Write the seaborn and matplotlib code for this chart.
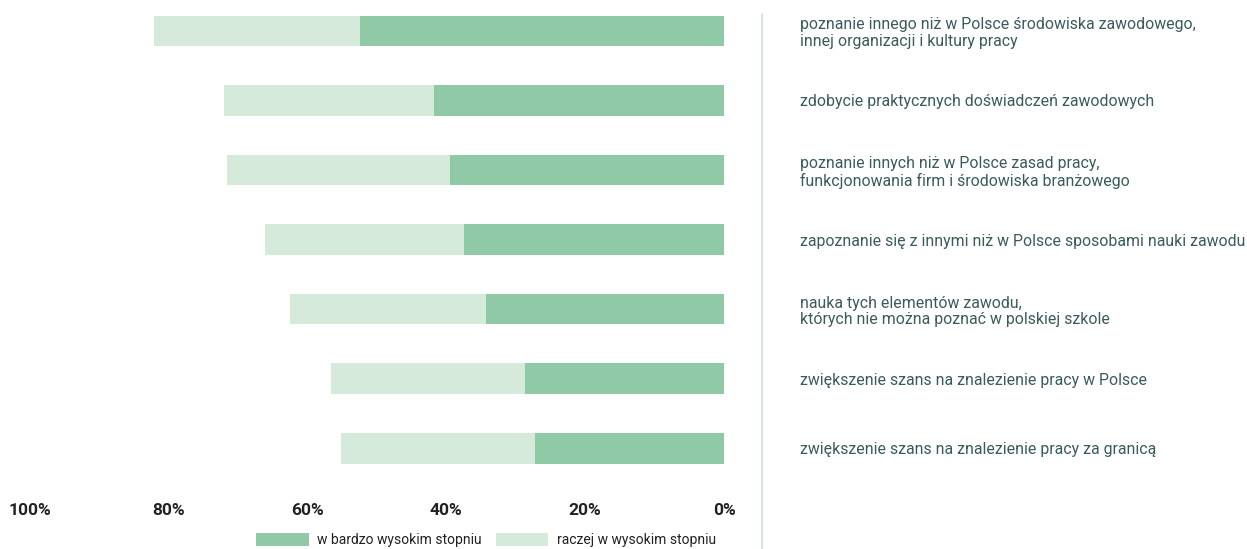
import matplotlib
matplotlib.use("Agg")
import matplotlib.pyplot as plt
from matplotlib.lines import Line2D
from matplotlib.patches import Patch
import seaborn as sns
import pandas as pd

categories = [
    "poznanie innego niż w Polsce środowiska zawodowego,\ninnej organizacji i kultury pracy",
    "zdobycie praktycznych doświadczeń zawodowych",
    "poznanie innych niż w Polsce zasad pracy,\nfunkcjonowania firm i środowiska branżowego",
    "zapoznanie się z innymi niż w Polsce sposobami nauki zawodu",
    "nauka tych elementów zawodu,\nktórych nie można poznać w polskiej szkole",
    "zwiększenie szans na znalezienie pracy w Polsce",
    "zwiększenie szans na znalezienie pracy za granicą",
]
very_high = [52.4, 41.8, 39.5, 37.5, 34.3, 28.7, 27.3]
rather_high = [29.8, 30.3, 32.1, 28.7, 28.2, 27.9, 27.9]
series_names = ["w bardzo wysokim stopniu", "raczej w wysokim stopniu"]
x_ticks = [100, 80, 60, 40, 20, 0]
x_tick_labels = ["100%", "80%", "60%", "40%", "20%", "0%"]

dark = "#8fc9a5"
light = "#d6eadc"
label_color = "#3a5b5c"

df = pd.DataFrame({
    "cat": categories,
    "very": very_high,
    "total": [a + b for a, b in zip(very_high, rather_high)],
})

sns.set_theme(style="white")
plt.rcParams["font.family"] = ["Roboto", "DejaVu Sans"]

W, H = 1247, 549
fig = plt.figure(figsize=(W / 100, H / 100), dpi=100)
ax = fig.add_axes([30 / W, 1 - 485 / H, (724 - 30) / W, 485 / H])

sns.barplot(data=df, y="cat", x="total", orient="h", color=light,
            width=0.44, ax=ax, saturation=1, linewidth=0)
sns.barplot(data=df, y="cat", x="very", orient="h", color=dark,
            width=0.44, ax=ax, saturation=1, linewidth=0)

ax.set_xlim(100, 0)
ax.set_ylim(6 + 37 / 70, -31 / 70)
ax.set_xlabel("")
ax.set_ylabel("")
for s in ax.spines.values():
    s.set_visible(False)

ax.set_xticks(x_ticks)
ax.set_xticklabels(x_tick_labels, fontsize=12.5, fontweight="bold", color="#222222")
ax.tick_params(axis="x", length=0, pad=13)

ax.yaxis.tick_right()
ax.tick_params(axis="y", length=0, pad=55, labelsize=11.4, labelcolor=label_color)
for lab in ax.get_yticklabels():
    lab.set_ha("left")
    lab.set_linespacing(1.15)

fig.add_artist(Line2D([762 / W, 762 / W], [0, 1 - 14 / H], color="#c8e2d2", lw=1.2))

handles = [Patch(facecolor=dark, edgecolor="none"), Patch(facecolor=light, edgecolor="none")]
fig.legend(handles, series_names, loc="center", bbox_to_anchor=(486 / W, 1 - 540 / H),
           ncol=2, frameon=False, fontsize=10, handlelength=3.8, handleheight=1.1,
           handletextpad=0.6, columnspacing=1.0, labelcolor="#222222")

fig.savefig("out.png", dpi=100)
